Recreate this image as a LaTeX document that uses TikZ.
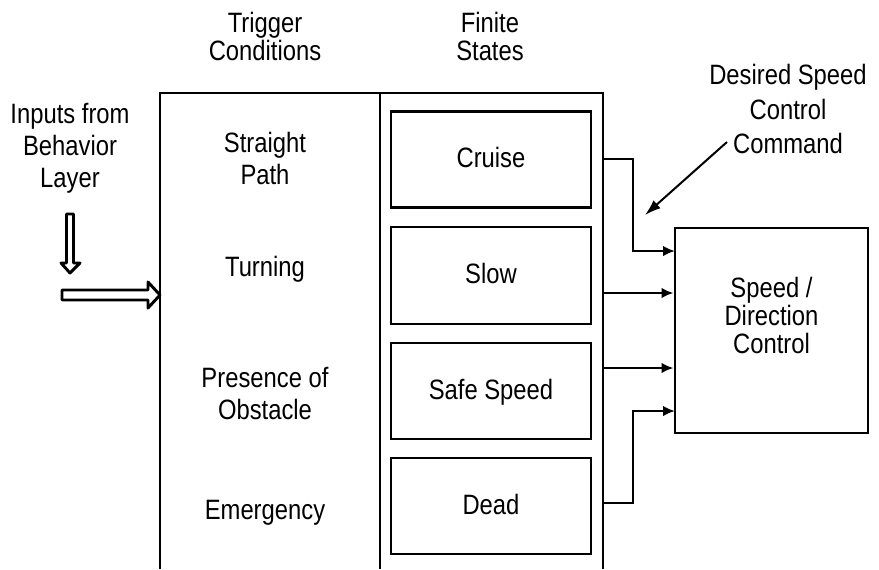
\documentclass[tikz,border=0pt]{standalone}
\usepackage{fontspec}
\setmainfont{Liberation Sans}[FakeStretch=0.85]
\usetikzlibrary{positioning,arrows.meta,calc}

\begin{document}
\begin{tikzpicture}[x=0.75pt,y=-0.75pt,
    font=\fontsize{21}{24.5}\selectfont,
    thickline/.style={line width=2.2pt},
    statebox/.style={draw,line width=2.2pt,minimum width=200*0.75pt,minimum height=96*0.75pt,inner sep=0pt},
    lbl/.style={align=center,inner sep=0pt},
    tight/.style={font=\fontsize{21}{21}\selectfont},
    conn/.style={line width=2.2pt,-{Latex[length=9pt,width=8pt]}},
    hollow/.style={line width=2.2pt,line join=round}]
    \useasboundingbox (0,0) rectangle (879,569);

    % Headers
    \node[lbl,tight] (trighead) at (265,36) {Trigger\\Conditions};
    \node[lbl,tight] (statehead) at (490,36) {Finite\\States};
    \node[lbl,font=\fontsize{21}{24}\selectfont] (inputs) at (70,148) {Inputs from\\Behavior\\Layer};
    \node[lbl,font=\fontsize{21}{26}\selectfont] (desired) at (788,109) {Desired Speed\\Control\\Command};

    % Frame
    \coordinate (frametl) at (160,93);
    \coordinate (framemid) at (380,93);
    \coordinate (frametr) at (603,93);
    \draw[thickline] (160,569) -- (frametl) -- (frametr) -- (603,569);
    \draw[thickline] (framemid) -- (380,569);

    % Trigger conditions
    \node[lbl] (straight) at (265,158.5) {Straight\\Path};
    \node[lbl] (turning) at (265,269.5) {Turning};
    \node[lbl] (obstacle) at (265,393.5) {Presence of\\Obstacle};
    \node[lbl] (emergency) at (265,513) {Emergency};

    % Finite states
    \node[statebox] (cruise) at (491,159.5) {};
    \node[statebox,minimum height=97*0.75pt] (slow) at (491,275.5) {};
    \node[statebox] (safe) at (491,391) {};
    \node[statebox] (dead) at (491,506) {};
    \node[lbl] at (491,157.5) {Cruise};
    \node[lbl] at (491,273.5) {Slow};
    \node[lbl] at (491,392) {Safe Speed};
    \node[lbl] at (491,504) {Dead};

    % Speed / direction control
    \node[draw,line width=2.2pt,minimum width=193*0.75pt,minimum height=205*0.75pt,inner sep=0pt] (ctrl) at (771.5,330.5) {};
    \node[lbl,tight] (ctrltext) at (771.5,315) {Speed /\\Direction\\Control};

    % Outputs to control
    \coordinate (out1) at (603,159);
    \coordinate (out2) at (603,293);
    \coordinate (out3) at (603,368);
    \coordinate (out4) at (603,503);
    \coordinate (in1) at (675,251);
    \coordinate (in4) at (675,411);
    \draw[conn] (out1) -- (633,159) |- (in1);
    \draw[conn] (out2) -- (out2 -| ctrl.west);
    \draw[conn] (out3) -- (out3 -| ctrl.west);
    \draw[conn] (out4) -- (633,503) |- (in4);

    % Command arrow
    \coordinate (cmdstart) at (727,142);
    \coordinate (cmdend) at (645,215);
    \draw[line width=1.5pt,-{Latex[length=12pt,width=8pt]}] (cmdstart) -- (cmdend);

    % Hollow input arrows
    \draw[hollow] (66.5,214) -- (73.5,214) -- (73.5,263) -- (80,263) -- (70,273) -- (61,263) -- (66.5,263) -- cycle;
    \draw[hollow] (62,290) -- (148,290) -- (148,282) -- (frametl |- 0,295) -- (148,308) -- (148,300) -- (62,300) -- cycle;
\end{tikzpicture}
\end{document}
